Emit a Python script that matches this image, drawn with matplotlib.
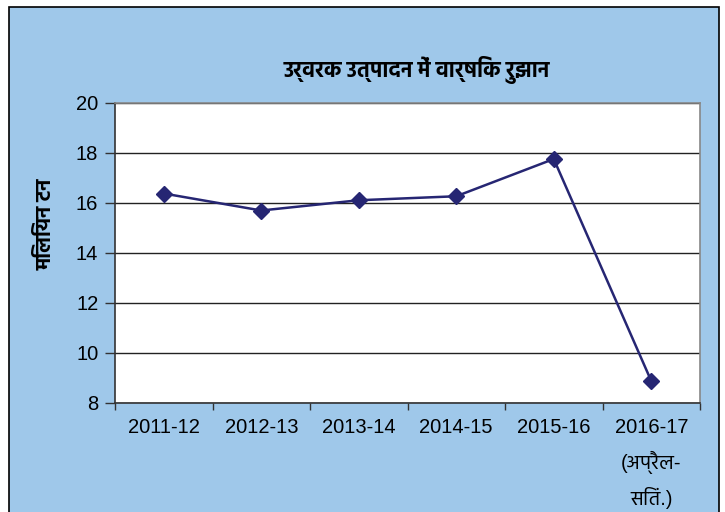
import matplotlib
matplotlib.use("Agg")
import matplotlib.pyplot as plt
from matplotlib.patches import Rectangle

plt.rcParams["font.family"] = ["Liberation Sans", "Hind", "Noto Sans"]

years = ["2011-12", "2012-13", "2013-14", "2014-15", "2015-16",
         "2016-17\n(अप्रैल-\nसितं.)"]
production = [16.38, 15.70, 16.11, 16.27, 17.76, 8.88]
y_ticks = [8, 10, 12, 14, 16, 18, 20]

bg = "#9fc8ea"
line_col = "#262673"

fig = plt.figure(figsize=(7.25, 5.12), dpi=100)
fig.patch.set_facecolor("white")
# light blue chart area with dark border (bottom edge is cut off in the original)
fig.patches.append(Rectangle((9 / 725, -0.05), 710 / 725, 1.05 - 7 / 512,
                             transform=fig.transFigure, facecolor=bg,
                             edgecolor="black", linewidth=1.2, zorder=-10))

ax = fig.add_axes([115 / 725, 1 - 403 / 512, 585 / 725, 300 / 512])
ax.set_zorder(1)
ax.set_facecolor("white")
x = list(range(len(years)))
ax.plot(x, production, color=line_col, linewidth=1.8, marker="D",
        markersize=8.5, markerfacecolor=line_col, markeredgecolor=line_col,
        zorder=3)

ax.set_xlim(-0.5, len(years) - 0.5)
ax.set_ylim(8, 20)
ax.set_yticks(y_ticks)
ax.set_xticks(x)
ax.set_xticklabels(years, fontsize=14.5, linespacing=1.75, va="top")
ax.set_xticks([i - 0.5 for i in range(len(years) + 1)], minor=True)
ax.tick_params(axis="x", which="major", length=0, pad=11)
ax.tick_params(axis="x", which="minor", length=5, width=1, color="#333333")
ax.tick_params(axis="y", length=7, width=1, color="#333333", labelsize=14.5,
               pad=5)
ax.grid(axis="y", color="#222222", linewidth=1.0)
ax.set_axisbelow(True)

for side in ["top", "right"]:
    ax.spines[side].set_color("#888888")
    ax.spines[side].set_linewidth(1.2)
for side in ["left", "bottom"]:
    ax.spines[side].set_color("#333333")
    ax.spines[side].set_linewidth(1.2)

fig.text(417 / 725, 1 - 70 / 512, "उर्वरक उत्पादन में वार्षिक रुझान",
         ha="center", va="center", fontsize=15.5, fontweight="bold",
         family=["Hind", "Noto Sans"])
fig.text(46 / 725, 1 - 224 / 512, "मिलियन टन", ha="center", va="center",
         rotation=90, fontsize=15, fontweight="bold",
         family=["Hind", "Noto Sans"])

fig.savefig("out.png", dpi=100, facecolor=fig.get_facecolor())
